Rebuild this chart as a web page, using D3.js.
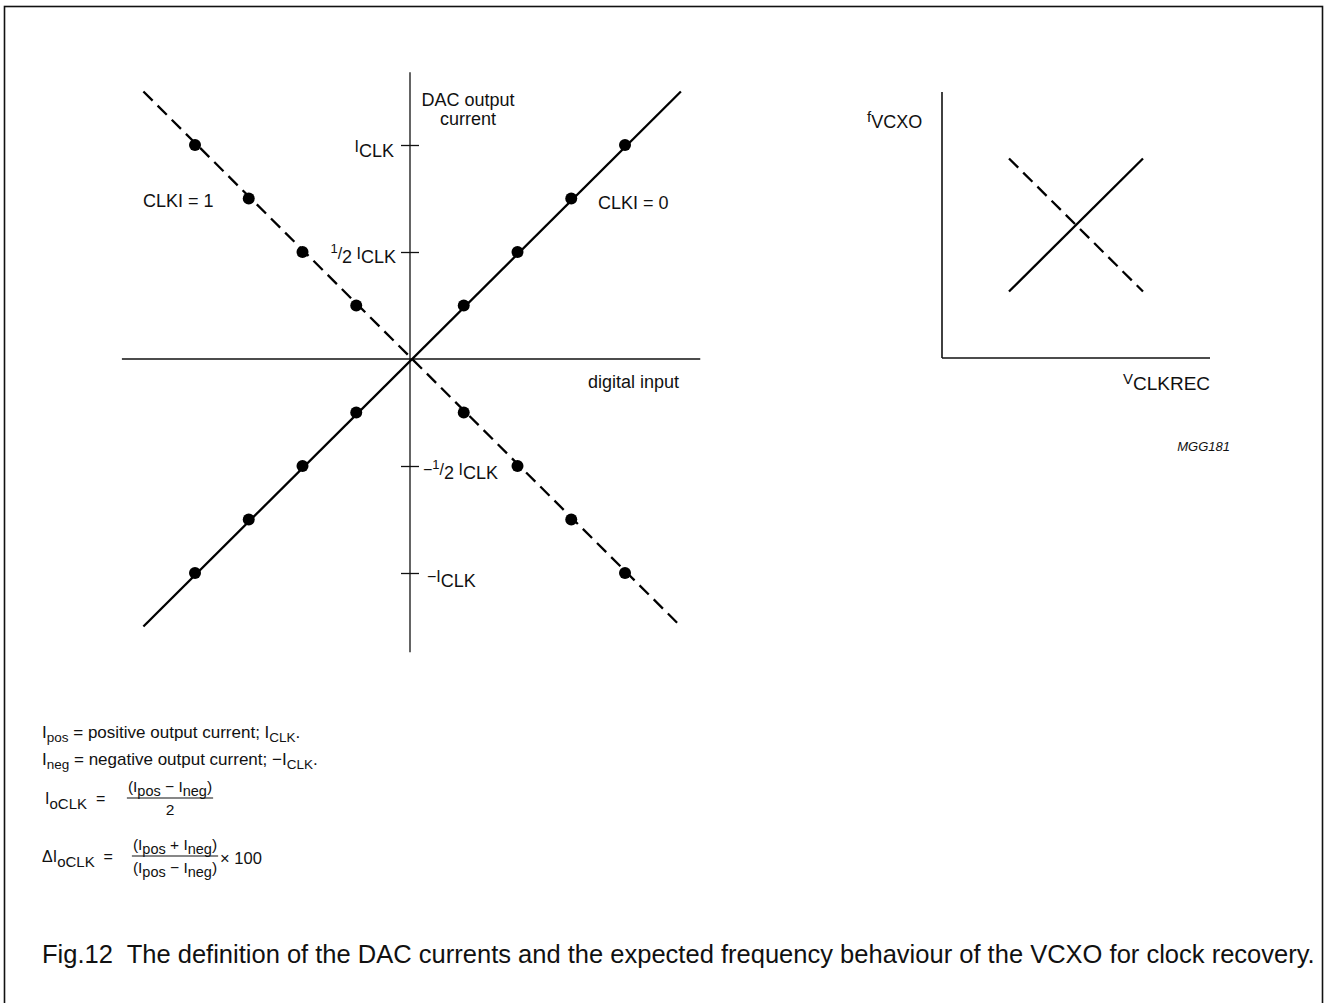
<!DOCTYPE html>
<html><head><meta charset="utf-8">
<script src="https://cdn.jsdelivr.net/npm/d3@7"></script>
<style>
html,body{margin:0;padding:0;background:#fff;}
svg{display:block;font-family:"Liberation Sans",Arial,Helvetica,sans-serif;}
text{white-space:pre;}
</style></head>
<body>
<svg id="c" width="1326" height="1003"></svg>
<script>
// ---------- data ----------
const dotInputs   = [-1, -0.75, -0.5, -0.25, 0.25, 0.5, 0.75, 1];      // digital input steps
const clki0Values = [-1, -0.75, -0.5, -0.25, 0.25, 0.5, 0.75, 1];      // CLKI = 0 output (units of I_CLK)
const clki1Values = [1, 0.75, 0.5, 0.25, -0.25, -0.5, -0.75, -1];      // CLKI = 1 output
const clki0Line   = [[-1.24, -1.25], [1.26, 1.25]];
const clki1Line   = [[-1.24, 1.25], [1.26, -1.25]];
const tickValues  = [1, 0.5, -0.5, -1];
const axisXExtent = [-1.34, 1.35];
const axisYExtent = [-1.37, 1.34];
// VCXO frequency vs V_CLKREC
const vcxoSolid   = [[0.25, 0.25], [0.75, 0.75]];
const vcxoDashed  = [[0.25, 0.75], [0.75, 0.25]];

// ---------- setup ----------
const svg = d3.select("#c");
const FONT = 18;

svg.append("rect").attr("x",4.5).attr("y",6.5).attr("width",1318).attr("height",1010)
  .attr("fill","none").attr("stroke","#111").attr("stroke-width",1.6);

// left chart scales
const x = d3.scaleLinear().domain([-1,1]).range([195,625]);
const y = d3.scaleLinear().domain([-1,1]).range([573,145]);
const L = svg.append("g");

L.append("line").attr("x1",x(axisXExtent[0])).attr("x2",x(axisXExtent[1]))
  .attr("y1",y(0)).attr("y2",y(0)).attr("stroke","#111").attr("stroke-width",1.3);
L.append("line").attr("x1",x(0)).attr("x2",x(0))
  .attr("y1",y(axisYExtent[0])).attr("y2",y(axisYExtent[1])).attr("stroke","#111").attr("stroke-width",1.3);

const ay = L.append("g").attr("transform",`translate(${x(0)},0)`)
  .call(d3.axisLeft(y).tickValues(tickValues).tickSize(9).tickFormat(""));
ay.select(".domain").remove();
ay.selectAll(".tick line").attr("x1",-9).attr("x2",9).attr("stroke","#111").attr("stroke-width",1.3);

const line = d3.line().x(d=>x(d[0])).y(d=>y(d[1]));
L.append("path").attr("d",line(clki0Line)).attr("fill","none").attr("stroke","#000").attr("stroke-width",2.3);
L.append("path").attr("d",line(clki1Line)).attr("fill","none").attr("stroke","#000").attr("stroke-width",2.3)
  .attr("stroke-dasharray","13,7");

L.selectAll("circle.c0").data(dotInputs).join("circle").attr("class","c0")
  .attr("cx",d=>x(d)).attr("cy",(d,i)=>y(clki0Values[i])).attr("r",6).attr("fill","#000");
L.selectAll("circle.c1").data(dotInputs).join("circle").attr("class","c1")
  .attr("cx",d=>x(d)).attr("cy",(d,i)=>y(clki1Values[i])).attr("r",6).attr("fill","#000");

function rich(g, px, py, parts, opt={}) {
  const size = opt.size || FONT, subSize = opt.subSize || size, shift = opt.shift || 5, supShift = opt.supShift || 6;
  const t = g.append("text").attr("x",px).attr("y",py).attr("font-size",size)
    .attr("text-anchor",opt.anchor||"start").attr("fill","#111");
  let cur = 0;
  parts.forEach(([s,k])=>{
    const target = k==="sub"? shift : k==="sup"? -supShift : 0;
    const ts = t.append("tspan").text(s).attr("dy", target-cur);
    if (k==="sub") ts.attr("font-size",subSize);
    if (k==="sup") ts.attr("font-size",opt.supSize||size*0.75);
    cur = target;
  });
  return t;
}

L.append("text").attr("x",468).attr("y",106).attr("text-anchor","middle").attr("font-size",FONT).attr("fill","#111").text("DAC output");
L.append("text").attr("x",468).attr("y",125).attr("text-anchor","middle").attr("font-size",FONT).attr("fill","#111").text("current");
L.append("text").attr("x",679).attr("y",388).attr("text-anchor","end").attr("font-size",FONT).attr("fill","#111").text("digital input");
L.append("text").attr("x",143).attr("y",207).attr("font-size",FONT).attr("fill","#111").text("CLKI = 1");
L.append("text").attr("x",598).attr("y",209).attr("font-size",FONT).attr("fill","#111").text("CLKI = 0");

rich(L, 394, y(tickValues[0])+7, [["I","n"],["CLK","sub"]], {anchor:"end", size:16, subSize:18});
rich(L, 396, y(tickValues[1])+7, [["1","sup"],["/","n"],["2","sub"],[" I","n"],["CLK","sub"]], {anchor:"end", size:16, subSize:18, supSize:13, shift:4});
rich(L, 423, y(tickValues[2])+9, [["\u2212","n"],["1","sup"],["/","n"],["2","sub"],[" I","n"],["CLK","sub"]], {size:16, subSize:18, supSize:13, shift:4});
rich(L, 427, y(tickValues[3])+9, [["\u2212I","n"],["CLK","sub"]], {size:16, subSize:18});

// right chart
const xr = d3.scaleLinear().domain([0,1]).range([942,1210]);
const yr = d3.scaleLinear().domain([0,1]).range([358,92]);
const R = svg.append("g");
R.append("line").attr("x1",xr(0)).attr("x2",xr(0)).attr("y1",yr(0)).attr("y2",yr(1)).attr("stroke","#111").attr("stroke-width",1.6);
R.append("line").attr("x1",xr(0)).attr("x2",xr(1)).attr("y1",yr(0)).attr("y2",yr(0)).attr("stroke","#111").attr("stroke-width",1.6);
const liner = d3.line().x(d=>xr(d[0])).y(d=>yr(d[1]));
R.append("path").attr("d",liner(vcxoSolid)).attr("fill","none").attr("stroke","#000").attr("stroke-width",2.3);
R.append("path").attr("d",liner(vcxoDashed)).attr("fill","none").attr("stroke","#000").attr("stroke-width",2.3).attr("stroke-dasharray","13,7");
rich(R, 867, 122, [["f","n"],["VCXO","sub"]], {size:15, subSize:18, shift:6});
rich(R, 1123, 384, [["V","n"],["CLKREC","sub"]], {size:15, subSize:19, shift:6});
R.append("text").attr("x",1230).attr("y",451).attr("text-anchor","end").attr("font-size",13).attr("font-style","italic").attr("fill","#111").text("MGG181");

// notes / formulas
const F = svg.append("g");
const fs = 17, ss = 13.5, ffs = 15.5;
rich(F, 42, 738, [["I","n"],["pos","sub"],[" = positive output current; I","n"],["CLK","sub"],[".","n"]], {size:fs, subSize:ss, shift:4});
rich(F, 42, 765, [["I","n"],["neg","sub"],[" = negative output current; \u2212I","n"],["CLK","sub"],[".","n"]], {size:fs, subSize:ss, shift:4});

function fraction(g, cx, yNum, yBar, yDen, num, den) {
  const n = rich(g, cx, yNum, num, {size:ffs, subSize:ffs-1, shift:4, anchor:"middle"});
  const d = rich(g, cx, yDen, den, {size:ffs, subSize:ffs-1, shift:4, anchor:"middle"});
  const w = Math.max(n.node().getComputedTextLength(), d.node().getComputedTextLength()) + 2;
  g.append("line").attr("x1",cx-w/2).attr("x2",cx+w/2).attr("y1",yBar).attr("y2",yBar).attr("stroke","#111").attr("stroke-width",1.1);
  return cx + w/2;
}
rich(F, 45, 804, [["I","n"],["oCLK","sub"],["  =","n"]], {size:16, subSize:15, shift:5});
fraction(F, 170, 792, 798, 815, [["(I","n"],["pos","sub"],[" \u2212 I","n"],["neg","sub"],[")","n"]], [["2","n"]]);

rich(F, 42, 862, [["\u0394I","n"],["oCLK","sub"],["  =","n"]], {size:16, subSize:15, shift:5});
const rEnd = fraction(F, 175, 850, 856, 873, [["(I","n"],["pos","sub"],[" + I","n"],["neg","sub"],[")","n"]], [["(I","n"],["pos","sub"],[" \u2212 I","n"],["neg","sub"],[")","n"]]);
F.append("text").attr("x",rEnd+2).attr("y",864).attr("font-size",16.5).attr("fill","#111").text("\u00d7 100");

// caption
const capText = "Fig.12  The definition of the DAC currents and the expected frequency behaviour of the VCXO for clock recovery.";
const cap = svg.append("text").attr("x",42).attr("y",963).attr("font-size",20).attr("fill","#111")
  .attr("xml:space","preserve").text(capText);
const cw = cap.node().getComputedTextLength();
cap.attr("font-size", 20*1273/cw);
</script>
</body></html>
